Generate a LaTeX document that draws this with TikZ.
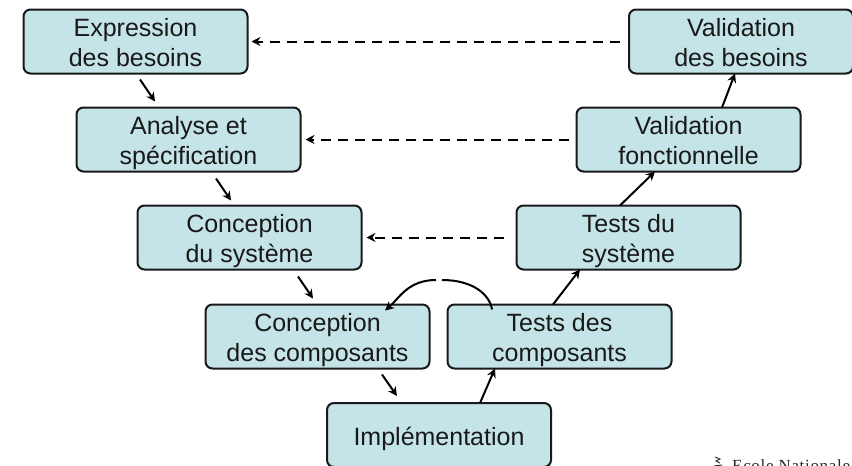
\documentclass[tikz,border=0pt]{standalone}
\usepackage{fontspec}
\setmainfont{Liberation Sans}
\newfontfamily\logofont[LetterSpace=4]{Liberation Serif}
\usetikzlibrary{arrows.meta}
\definecolor{boxfill}{HTML}{C5E4E8}
\newcommand{\boxlines}[2][-10.5pt]{\raisebox{#1}[0pt][0pt]{\begin{tabular}{@{}c@{}}#2\end{tabular}}}
\tikzset{
  phase/.style={draw=black!90,fill=boxfill,line width=2pt,rounded corners=7pt,minimum width=224pt,minimum height=64pt,inner sep=0pt,outer sep=0pt,font=\fontsize{25}{30}\selectfont,text=black!90},
  flow/.style={draw=black,line width=2pt,-{Stealth[length=9pt,width=9pt]}},
  feedback/.style={flow,dash pattern=on 10pt off 7pt},
  loopline/.style={draw=black,line width=2pt},
}
\begin{document}
\begin{tikzpicture}[x=1pt,y=-1pt]
\useasboundingbox (0,0) rectangle (852,466);
\clip (0,0) rectangle (852,466);
\node[phase] (eb) at (135.5,41.5) {\boxlines{Expression\\des besoins}};
\node[phase] (as) at (188.5,139.5) {\boxlines{Analyse et\\spécification}};
\node[phase] (cs) at (249.5,237.5) {\boxlines{Conception\\du système}};
\node[phase] (cc) at (317.5,336.5) {\boxlines{Conception\\des composants}};
\node[phase] (tc) at (559.5,336.5) {\boxlines{Tests des\\composants}};
\node[phase] (im) at (439,435) {\boxlines[-11pt]{Implémentation}};
\node[phase] (ts) at (628.5,237.5) {\boxlines{Tests du\\système}};
\node[phase] (vf) at (688.5,139.5) {\boxlines{Validation\\fonctionnelle}};
\node[phase] (vb) at (741,41.5) {\boxlines{Validation\\des besoins}};
\draw[flow] ([xshift=4.5pt,yshift=-6pt]eb.south) -- ([xshift=-33.5pt,yshift=6pt]as.north);
\draw[flow] ([xshift=27.5pt,yshift=-7pt]as.south) -- ([xshift=-18.5pt,yshift=5pt]cs.north);
\draw[flow] ([xshift=48.5pt,yshift=-7pt]cs.south) -- ([xshift=-4.5pt,yshift=6pt]cc.north);
\draw[flow] ([xshift=64.5pt,yshift=-6pt]cc.south) -- ([xshift=-42pt,yshift=7pt]im.north);
\draw[flow] ([xshift=41pt]im.north) -- ([xshift=-64.5pt]tc.south);
\draw[flow] ([xshift=-6.5pt]tc.north) -- ([xshift=-48.5pt]ts.south);
\draw[flow] ([xshift=-8.5pt]ts.north) -- ([xshift=-33.5pt]vf.south);
\draw[flow] ([xshift=33.5pt]vf.north) -- ([xshift=-6pt]vb.south);
\draw[feedback] ([xshift=-9pt]vb.west) -- ([xshift=4pt]eb.east);
\draw[feedback] ([xshift=-8pt]vf.west) -- ([xshift=5pt]as.east);
\draw[feedback] ([xshift=-13pt]ts.west) -- ([xshift=5pt]cs.east);
\coordinate (gapr) at (442,280);
\coordinate (gapl) at (436,280);
\draw[loopline] ([xshift=-67.5pt,yshift=-5pt]tc.north) .. controls +(-2,-14) and +(32,0) .. (gapr);
\draw[flow] (gapl) .. controls +(-28,0) and +(14,-12) .. ([xshift=67.5pt,yshift=-6pt]cc.north);
\node[font=\logofont\fontsize{17}{17}\selectfont,anchor=base west,inner sep=0pt,text=black!85] (logo) at (732,471) {Ecole Nationale};
\draw[line width=1pt,black!80] (715,457) -- (720,459) -- (716,461) -- (720,463) (714,466) -- (722,465);
\end{tikzpicture}
\end{document}
